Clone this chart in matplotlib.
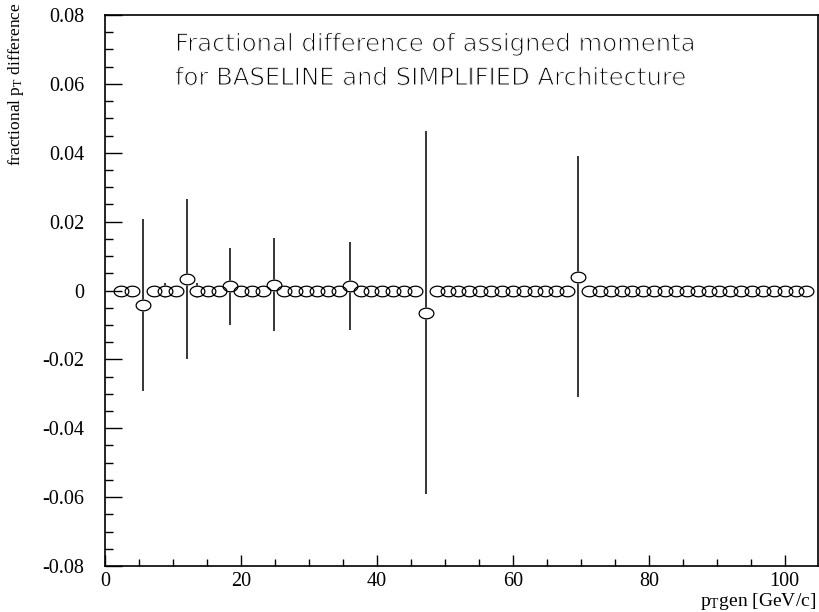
import matplotlib
matplotlib.use('Agg')
import matplotlib.pyplot as plt
import matplotlib.patheffects as pe
import numpy as np
from matplotlib.path import Path
from matplotlib.ticker import MultipleLocator, FuncFormatter

plt.rcParams['axes.unicode_minus'] = False
plt.rcParams['mathtext.default'] = 'regular'

# bin centres in p_T gen [GeV/c]
pt_gen = [2.4, 4.0, 5.6, 7.2, 8.8, 10.4, 12.0, 13.6,
          15.2, 16.8, 18.4, 20.0, 21.6, 23.2, 24.8, 26.4,
          28.0, 29.6, 31.2, 32.8, 34.4, 36.0, 37.6, 39.2,
          40.8, 42.4, 44.0, 45.6, 47.2, 48.8, 50.4, 52.0,
          53.6, 55.2, 56.8, 58.4, 60.0, 61.6, 63.2, 64.8,
          66.4, 68.0, 69.6, 71.2, 72.8, 74.4, 76.0, 77.6,
          79.2, 80.8, 82.4, 84.0, 85.6, 87.2, 88.8, 90.4,
          92.0, 93.6, 95.2, 96.8, 98.4, 100.0, 101.6, 103.2]

# fractional pT difference per bin
frac_diff = [0.0, 0.0, -0.0042, 0.0, 0.0, 0.0, 0.0034, 0.0,
             0.0, 0.0, 0.0012, 0.0, 0.0, 0.0, 0.0017, 0.0,
             0.0, 0.0, 0.0, 0.0, 0.0, 0.0014, 0.0, 0.0,
             0.0, 0.0, 0.0, 0.0, -0.0064, 0.0, 0.0, 0.0,
             0.0, 0.0, 0.0, 0.0, 0.0, 0.0, 0.0, 0.0,
             0.0, 0.0, 0.0040, 0.0, 0.0, 0.0, 0.0, 0.0,
             0.0, 0.0, 0.0, 0.0, 0.0, 0.0, 0.0, 0.0,
             0.0, 0.0, 0.0, 0.0, 0.0, 0.0, 0.0, 0.0]

# error on each bin
frac_err = [0.0, 0.0, 0.0251, 0.0, 0.0022, 0.0, 0.0232, 0.0021,
            0.0, 0.0, 0.0112, 0.0, 0.0, 0.0, 0.0135, 0.0,
            0.0, 0.0, 0.0, 0.0, 0.0, 0.0128, 0.0, 0.0,
            0.0, 0.0, 0.0, 0.0, 0.0527, 0.0, 0.0, 0.0,
            0.0, 0.0, 0.0, 0.0, 0.0, 0.0, 0.0, 0.0,
            0.0, 0.0, 0.0350, 0.0, 0.0, 0.0, 0.0, 0.0,
            0.0, 0.0, 0.0, 0.0, 0.0, 0.0, 0.0, 0.0,
            0.0, 0.0, 0.0, 0.0, 0.0, 0.0, 0.0, 0.0]

x = np.array(pt_gen)
y = np.array(frac_diff)
e = np.array(frac_err)

# flattened open circle, like the PAW marker
t = np.linspace(0, 2 * np.pi, 65)
ell = Path(np.column_stack([np.cos(t), 0.72 * np.sin(t)]), closed=True)
msize = 10.6

fig = plt.figure(figsize=(8.19, 6.12), dpi=100)
ax = fig.add_axes([105 / 819, 1 - 566 / 612, 713 / 819, 551 / 612])

ax.errorbar(x, y, yerr=e, fmt='none', ecolor='black', elinewidth=1.1,
            capsize=0, zorder=2)
has_err = e > 0
ax.plot(x[has_err], y[has_err], linestyle='none', marker=ell, markersize=msize,
        markerfacecolor='white', markeredgecolor='white', zorder=3)
ax.plot(x, y, linestyle='none', marker=ell, markersize=msize,
        markerfacecolor='none', markeredgecolor='black',
        markeredgewidth=0.9, zorder=4, clip_on=False)

ax.set_xlim(0, 104.9)
ax.set_ylim(-0.08, 0.08)

ax.xaxis.set_major_locator(MultipleLocator(20))
ax.xaxis.set_minor_locator(MultipleLocator(5))
ax.yaxis.set_major_locator(MultipleLocator(0.02))
ax.yaxis.set_minor_locator(MultipleLocator(0.005))

def ylab(v, pos):
    if abs(v) < 1e-9:
        return '0'
    return '%.2f' % v

ax.yaxis.set_major_formatter(FuncFormatter(ylab))
ax.xaxis.set_major_formatter(FuncFormatter(lambda v, p: '%d' % round(v)))

ax.tick_params(which='both', direction='in', top=False, right=False,
               width=1.0, color='black')
ax.tick_params(axis='y', which='major', length=12, pad=15)
ax.tick_params(axis='y', which='minor', length=6)
ax.tick_params(axis='x', which='major', length=8, pad=4)
ax.tick_params(axis='x', which='minor', length=5)
for lbl in ax.get_xticklabels() + ax.get_yticklabels():
    lbl.set_family('Liberation Serif')
    lbl.set_fontsize(14.5)

for sp in ax.spines.values():
    sp.set_linewidth(1.2)

# header text, thinned with a white outline on top
hfont = dict(family='DejaVu Sans', fontsize=17.5, color='black')
thin = [pe.Normal(), pe.Stroke(linewidth=0.8, foreground='white')]
for yy, s in [(44, 'Fractional difference of assigned momenta'),
              (78, 'for BASELINE and SIMPLIFIED Architecture')]:
    fig.text(175 / 819, 1 - yy / 612, s, va='center', ha='left',
             path_effects=thin, **hfont)

# axis titles
fig.text(16 / 819, 1 - 84 / 612, r'fractional p$_{T}$ difference',
         rotation=90, ha='center', va='center',
         family='Liberation Serif', fontsize=12.5)
fig.text(816 / 819, 1 - 602 / 612, r'p$_{T}$gen [GeV/c]',
         ha='right', va='center', family='Liberation Serif', fontsize=14)

fig.savefig('out.png', dpi=100)
